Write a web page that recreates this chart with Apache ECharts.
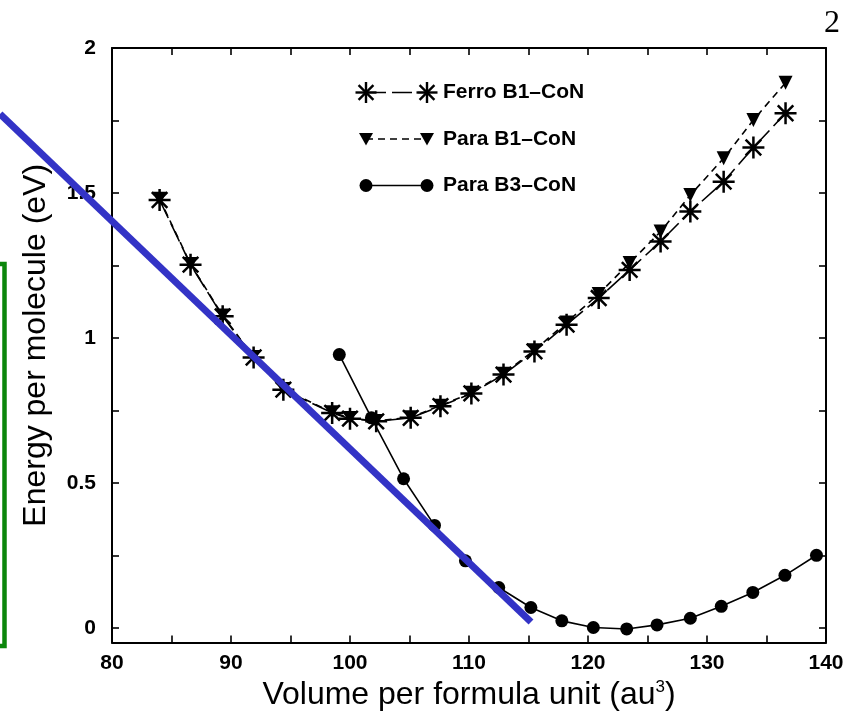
<!DOCTYPE html>
<html><head><meta charset="utf-8">
<script src="https://cdn.jsdelivr.net/npm/echarts@6/dist/echarts.min.js"></script>
<style>html,body{margin:0;padding:0;background:#fff}#c{width:855px;height:716px}</style>
</head><body><div id="c"></div>
<script>
const seriesNames = ['Ferro B1\u2013CoN', 'Para B1\u2013CoN', 'Para B3\u2013CoN'];
const ferroX = [84.0, 86.6, 89.3, 91.9, 94.4, 98.5, 100.0, 102.2, 105.1, 107.6, 110.2, 112.9, 115.5, 118.2, 120.9, 123.5, 126.1, 128.6, 131.4, 133.9, 136.6];
const ferroY = [1.476, 1.253, 1.075, 0.933, 0.822, 0.742, 0.722, 0.713, 0.725, 0.765, 0.809, 0.874, 0.954, 1.046, 1.138, 1.235, 1.333, 1.436, 1.539, 1.657, 1.775];
const paraB1X = [84.0, 86.6, 89.3, 91.9, 94.4, 98.5, 100.0, 102.2, 105.1, 107.6, 110.2, 112.9, 115.5, 118.2, 120.9, 123.5, 126.1, 128.6, 131.4, 133.9, 136.6];
const paraB1Y = [1.480, 1.255, 1.078, 0.935, 0.824, 0.744, 0.724, 0.714, 0.727, 0.767, 0.811, 0.877, 0.958, 1.054, 1.152, 1.259, 1.367, 1.493, 1.620, 1.752, 1.880];
const paraB3X = [99.1, 101.8, 104.5, 107.1, 109.7, 112.5, 115.2, 117.8, 120.45, 123.25, 125.8, 128.6, 131.2, 133.85, 136.55, 139.2];
const paraB3Y = [0.943, 0.725, 0.515, 0.354, 0.232, 0.140, 0.071, 0.025, 0.002, -0.003, 0.011, 0.034, 0.075, 0.123, 0.182, 0.251];
const xTicks = [80, 85, 90, 95, 100, 105, 110, 115, 120, 125, 130, 135, 140];
const xLabels = [80, 90, 100, 110, 120, 130, 140];
const yTicks = [0, 0.25, 0.5, 0.75, 1, 1.25, 1.5, 1.75, 2];
const yLabels = [0, 0.5, 1, 1.5, 2];

const FONT = '"Liberation Sans", Arial, Helvetica, sans-serif';
const zip = (xs, ys) => xs.map((x, i) => [x, ys[i]]);
const starPath = 'path://M0,10 L20,10 M10,0 L10,20 M2.93,2.93 L17.07,17.07 M17.07,2.93 L2.93,17.07';

function starGroup(cx, cy, r) {
  const d = r * 0.7071;
  const segs = [[-r, 0, r, 0], [0, -r, 0, r], [-d, -d, d, d], [d, -d, -d, d]];
  return { type: 'group', children: segs.map(s => ({ type: 'line',
    shape: { x1: cx + s[0], y1: cy + s[1], x2: cx + s[2], y2: cy + s[3] },
    style: { stroke: '#000', lineWidth: 2.4 } })) };
}

const legendRows = [92.5, 139, 185.5];
const lx1 = 366, lx2 = 427, ltx = 443;
const legendGraphics = [];
legendRows.forEach((y, i) => {
  const dash = i === 0 ? [20, 6] : (i === 1 ? [7, 5] : null);
  legendGraphics.push({ type: 'line', shape: { x1: lx1, y1: y, x2: lx2, y2: y },
    style: { stroke: '#000', lineWidth: 1.6, lineDash: dash } });
  [lx1, lx2].forEach(cx => {
    if (i === 0) legendGraphics.push(starGroup(cx, y, 10.5));
    else if (i === 1) legendGraphics.push({ type: 'polygon', shape: { points: [[cx - 7, y - 6], [cx + 7, y - 6], [cx, y + 6.5]] }, style: { fill: '#000' } });
    else legendGraphics.push({ type: 'circle', shape: { cx: cx, cy: y, r: 6.5 }, style: { fill: '#000' } });
  });
  legendGraphics.push({ type: 'text', x: ltx, y: y, style: { text: seriesNames[i], font: 'bold 21px ' + FONT, fill: '#000', verticalAlign: 'middle', align: 'left' } });
});

const axisLineStyle = { color: '#000', width: 2 };
const tickCommon = { inside: true, length: 7, lineStyle: { color: '#000', width: 1.6 } };

const option = {
  animation: false,
  backgroundColor: '#fff',
  grid: { left: 112, right: 29, top: 48, bottom: 73 },
  xAxis: [
    { type: 'value', min: 80, max: 140, position: 'bottom',
      axisLine: { show: true, onZero: false, lineStyle: axisLineStyle },
      axisTick: Object.assign({ customValues: xTicks }, tickCommon),
      axisLabel: { customValues: xLabels, fontSize: 21, fontWeight: 'bold', fontFamily: FONT, color: '#000', margin: 10 },
      splitLine: { show: false },
      name: '{a|Volume per formula unit (au}{s|3}{a|)}', nameLocation: 'middle', nameGap: 33,
      nameTextStyle: { rich: { a: { fontSize: 32, fontFamily: FONT, color: '#000' }, s: { fontSize: 17, fontFamily: FONT, color: '#000', padding: [0, 0, 16, 0] } } } },
    { type: 'value', min: 80, max: 140, position: 'top',
      axisLine: { show: true, onZero: false, lineStyle: axisLineStyle },
      axisTick: Object.assign({ customValues: xTicks }, tickCommon),
      axisLabel: { show: false }, splitLine: { show: false } }
  ],
  yAxis: [
    { type: 'value', min: -0.05, max: 2, position: 'left',
      axisLine: { show: true, onZero: false, lineStyle: axisLineStyle },
      axisTick: Object.assign({ customValues: yTicks }, tickCommon),
      axisLabel: { customValues: yLabels, fontSize: 21, fontWeight: 'bold', fontFamily: FONT, color: '#000', margin: 16, formatter: v => String(Math.round(v * 100) / 100) },
      splitLine: { show: false },
      name: 'Energy per molecule (eV)', nameLocation: 'middle', nameGap: 60, nameRotate: 90,
      nameTextStyle: { fontSize: 32, fontFamily: FONT, color: '#000' } },
    { type: 'value', min: -0.05, max: 2, position: 'right',
      axisLine: { show: true, onZero: false, lineStyle: axisLineStyle },
      axisTick: Object.assign({ customValues: yTicks }, tickCommon),
      axisLabel: { show: false }, splitLine: { show: false } }
  ],
  series: [
    { name: seriesNames[2], type: 'line', data: zip(paraB3X, paraB3Y), symbol: 'circle', symbolSize: 13,
      itemStyle: { color: '#000' }, lineStyle: { color: '#000', width: 1.6 }, z: 3 },
    { name: seriesNames[1], type: 'line', data: zip(paraB1X, paraB1Y), symbol: 'triangle', symbolRotate: 180, symbolSize: 14,
      itemStyle: { color: '#000' }, lineStyle: { color: '#000', width: 1.6, type: [7, 5] }, z: 4 },
    { name: seriesNames[0], type: 'line', data: zip(ferroX, ferroY), symbol: starPath, symbolSize: 22,
      itemStyle: { color: 'rgba(0,0,0,0)', borderColor: '#000', borderWidth: 2.5 }, lineStyle: { color: '#000', width: 1.6, type: [20, 6] }, z: 5 }
  ],
  graphic: legendGraphics.concat([
    { type: 'text', x: 840, y: 24, style: { text: '2', font: '32px "Liberation Serif", "Times New Roman", serif', fill: '#000', align: 'right', verticalAlign: 'middle' } },
    { type: 'rect', shape: { x: -20, y: 264, width: 24.5, height: 382 }, style: { fill: null, stroke: '#0b860b', lineWidth: 4.5 }, z: 100 },
    { type: 'line', shape: { x1: 0, y1: 114, x2: 531, y2: 622 }, style: { stroke: '#3333c6', lineWidth: 7 }, z: 100 }
  ])
};
const chart = echarts.init(document.getElementById('c'), null, { renderer: 'canvas' });
chart.setOption(option);
</script>
</body></html>
